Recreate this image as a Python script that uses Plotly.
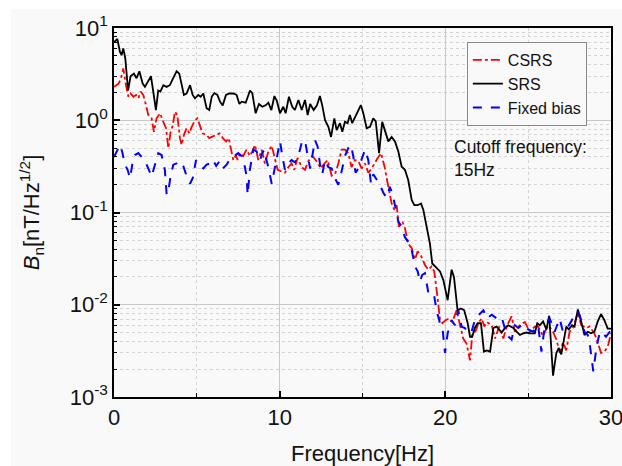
import plotly.graph_objects as go

# ---------------- data ----------------
freq_srs = [0.0, 0.2, 0.36, 0.46, 0.56, 0.68, 0.85, 1.0, 1.2, 1.36, 1.53, 1.73, 1.87, 2.07, 2.23, 2.37, 2.53, 2.67, 2.8, 2.98,
            3.17, 3.37, 3.58, 3.78, 3.94, 4.08, 4.22, 4.38, 4.59, 4.75, 4.89, 5.09, 5.23, 5.39, 5.59, 5.75, 5.9, 6.06, 6.24, 6.4,
            6.56, 6.76, 6.96, 7.2, 7.4, 7.57, 7.7, 7.95, 8.21, 8.35, 8.55, 8.75, 8.95, 9.15, 9.32, 9.5, 9.68, 9.83, 10.02, 10.22,
            10.36, 10.56, 10.76, 10.92, 11.13, 11.33, 11.53, 11.69, 11.84, 12.05, 12.25, 12.43, 12.57, 12.74, 12.94, 13.1, 13.3, 13.44, 13.64, 13.78,
            13.94, 14.1, 14.24, 14.38, 14.58, 14.75, 14.9, 15.05, 15.25, 15.45, 15.65, 15.8, 16.0, 16.19, 16.4, 16.56, 16.76, 16.96, 17.16, 17.36,
            17.56, 17.76, 17.97, 18.13, 18.33, 18.53, 18.67, 18.88, 19.07, 19.21, 19.41, 19.68, 19.88, 20.14, 20.38, 20.52, 20.74, 20.94, 21.14, 21.35,
            21.49, 21.62, 21.78, 21.95, 22.15, 22.33, 22.5, 22.7, 22.9, 23.1, 23.4, 23.6, 23.8, 24.1, 24.3, 24.5, 24.7, 24.9, 25.1, 25.4,
            25.55, 25.7, 25.9, 26.1, 26.27, 26.4, 26.5, 26.7, 26.85, 27.0, 27.15, 27.3, 27.45, 27.65, 27.8, 28.0, 28.2, 28.4, 28.6, 28.8,
            29.0, 29.2, 29.4, 29.6, 29.8, 30.0]
bn_srs = [7.0, 7.6, 5.5, 5.1, 6.0, 4.7, 2.1, 3.0, 3.2, 2.85, 3.4, 2.5, 2.3, 2.7, 3.0, 2.05, 1.29, 2.1, 2.05, 2.4,
          2.3, 2.4, 2.85, 3.4, 3.2, 2.5, 1.88, 1.95, 2.4, 1.88, 1.73, 1.88, 1.8, 1.95, 1.35, 1.29, 1.8, 1.97, 1.88, 1.59,
          1.45, 1.88, 1.95, 1.95, 1.88, 1.5, 1.59, 1.55, 2.1, 1.96, 1.19, 1.5, 1.4, 1.45, 1.55, 1.29, 1.83, 1.62, 1.19, 1.4,
          1.19, 1.8, 1.4, 1.29, 1.66, 1.29, 1.66, 1.14, 1.5, 1.29, 1.45, 1.83, 1.45, 1.0, 0.85, 0.66, 1.05, 0.78, 0.93, 0.75,
          0.96, 0.93, 1.14, 0.93, 1.1, 1.24, 1.46, 1.19, 0.82, 0.85, 1.05, 0.97, 0.44, 0.96, 0.72, 0.59, 0.66, 0.59, 0.46, 0.315,
          0.29, 0.225, 0.137, 0.12, 0.12, 0.125, 0.107, 0.065, 0.046, 0.028, 0.026, 0.023, 0.0185, 0.0112, 0.024, 0.02, 0.0087, 0.0091, 0.0087, 0.0063,
          0.0045, 0.0045, 0.0056, 0.0063, 0.0063, 0.0031, 0.0032, 0.0031, 0.0056, 0.0058, 0.005, 0.0056, 0.006, 0.0056, 0.0051, 0.0047, 0.0049, 0.005, 0.0049, 0.0049,
          0.0063, 0.006, 0.0066, 0.0054, 0.0076, 0.0035, 0.0017, 0.003, 0.0034, 0.0029, 0.0042, 0.0058, 0.0054, 0.006, 0.0058, 0.0089, 0.0066, 0.0047, 0.0051, 0.0049,
          0.0051, 0.0066, 0.0079, 0.0068, 0.0055, 0.0055]

freq_csrs = [0.0, 0.28, 0.42, 0.56, 0.72, 0.87, 1.0, 1.17, 1.33, 1.47, 1.61, 1.77, 1.93, 2.07, 2.27, 2.41, 2.57, 2.78, 2.98, 3.14,
             3.28, 3.42, 3.54, 3.68, 3.82, 3.98, 4.08, 4.22, 4.38, 4.55, 4.69, 4.89, 5.03, 5.19, 5.35, 5.59, 5.75, 5.9, 6.17, 6.37,
             6.57, 6.77, 6.92, 7.04, 7.2, 7.36, 7.46, 7.6, 7.8, 8.0, 8.2, 8.35, 8.51, 8.71, 8.91, 9.11, 9.32, 9.52, 9.68, 9.88,
             10.08, 10.32, 10.52, 10.72, 10.88, 11.08, 11.33, 11.53, 11.73, 11.97, 12.23, 12.49, 12.7, 12.9, 13.14, 13.34, 13.54, 13.74, 13.94, 14.14,
             14.34, 14.54, 14.75, 14.95, 15.15, 15.35, 15.55, 15.71, 15.9, 16.12, 16.32, 16.56, 16.76, 16.92, 17.06, 17.2, 17.4, 17.56, 17.76, 17.97,
             18.17, 18.33, 18.53, 18.77, 18.97, 19.17, 19.33, 19.53, 19.68, 19.82, 20.02, 20.22, 20.42, 20.68, 20.88, 21.08, 21.28, 21.49, 21.63, 21.83,
             22.03, 22.2, 22.35, 22.5, 22.8, 23.0, 23.25, 23.5, 23.7, 24.0, 24.2, 24.5, 24.8, 25.1, 25.4, 25.6, 25.9, 26.2, 26.5, 26.7,
             26.92, 27.1, 27.3, 27.5, 27.7, 28.0, 28.2, 28.5, 28.7, 29.0, 29.2, 29.4, 29.6, 29.8, 30.0]
bn_csrs = [2.3, 2.5, 2.85, 3.65, 2.4, 1.8, 1.95, 1.8, 1.88, 1.73, 2.05, 1.88, 1.46, 1.14, 1.05, 0.75, 1.05, 1.19, 0.96, 0.82,
           0.5, 0.75, 0.87, 1.24, 1.14, 0.64, 0.54, 0.69, 0.82, 0.72, 0.85, 1.0, 1.05, 0.87, 0.72, 0.69, 0.64, 0.66, 0.7, 0.72,
           0.64, 0.59, 0.64, 0.5, 0.37, 0.42, 0.37, 0.44, 0.41, 0.48, 0.41, 0.46, 0.54, 0.37, 0.48, 0.34, 0.46, 0.53, 0.41, 0.29,
           0.28, 0.27, 0.31, 0.34, 0.29, 0.39, 0.31, 0.29, 0.36, 0.41, 0.36, 0.3, 0.34, 0.37, 0.25, 0.26, 0.34, 0.48, 0.48, 0.44,
           0.31, 0.37, 0.36, 0.3, 0.34, 0.27, 0.3, 0.34, 0.385, 0.44, 0.32, 0.19, 0.125, 0.107, 0.12, 0.07, 0.08, 0.068, 0.046, 0.041,
           0.031, 0.038, 0.034, 0.027, 0.024, 0.026, 0.023, 0.012, 0.0068, 0.0063, 0.0068, 0.0071, 0.0065, 0.0087, 0.0063, 0.0043, 0.0038, 0.0025, 0.0048, 0.0052,
           0.0065, 0.0071, 0.0058, 0.0065, 0.006, 0.0043, 0.0058, 0.0043, 0.0058, 0.0075, 0.0051, 0.006, 0.0065, 0.0051, 0.0058, 0.0058, 0.0046, 0.006, 0.0051, 0.0042,
           0.003, 0.0039, 0.0032, 0.0051, 0.0056, 0.0082, 0.006, 0.0056, 0.0058, 0.0049, 0.0039, 0.003, 0.0031, 0.0035, 0.0049]

freq_fixed = [0.0, 0.2, 0.36, 0.5, 0.66, 0.82, 0.97, 1.1, 1.27, 1.47, 1.67, 1.87, 2.07, 2.27, 2.47, 2.67, 2.87, 3.07, 3.18, 3.28,
              3.42, 3.58, 3.78, 3.98, 4.18, 4.38, 4.59, 4.75, 4.95, 5.15, 5.39, 5.59, 5.79, 5.96, 6.17, 6.37, 6.57, 6.8, 7.0, 7.2,
              7.36, 7.5, 7.7, 7.87, 8.0, 8.07, 8.2, 8.41, 8.61, 8.81, 8.95, 9.07, 9.2, 9.32, 9.52, 9.68, 9.83, 10.02, 10.16, 10.32,
              10.52, 10.72, 10.92, 11.13, 11.33, 11.53, 11.69, 11.84, 11.97, 12.13, 12.29, 12.43, 12.57, 12.74, 12.94, 13.14, 13.34, 13.54, 13.7, 13.94,
              14.14, 14.3, 14.44, 14.58, 14.75, 14.95, 15.15, 15.35, 15.51, 15.65, 15.85, 16.05, 16.25, 16.45, 16.65, 16.8, 16.96, 17.16, 17.36, 17.56,
              17.76, 17.97, 18.17, 18.33, 18.47, 18.6, 18.77, 18.97, 19.13, 19.33, 19.47, 19.68, 19.82, 19.98, 20.14, 20.38, 20.58, 20.78, 20.98, 21.18,
              21.39, 21.58, 21.78, 22.03, 22.3, 22.5, 22.8, 23.1, 23.4, 23.7, 24.0, 24.2, 24.4, 24.7, 25.0, 25.3, 25.6, 25.8, 26.0, 26.3,
              26.6, 26.9, 27.1, 27.3, 27.6, 27.9, 28.1, 28.4, 28.6, 28.74, 28.93, 29.13, 29.33, 29.5, 29.7, 30.0]
bn_fixed = [0.4, 0.48, 0.54, 0.45, 0.33, 0.29, 0.235, 0.33, 0.42, 0.44, 0.4, 0.36, 0.3, 0.245, 0.33, 0.44, 0.42, 0.29, 0.155, 0.17,
            0.25, 0.33, 0.34, 0.36, 0.32, 0.25, 0.205, 0.235, 0.37, 0.32, 0.3, 0.33, 0.34, 0.375, 0.32, 0.36, 0.3, 0.33, 0.38, 0.4,
            0.42, 0.44, 0.41, 0.33, 0.25, 0.155, 0.29, 0.48, 0.46, 0.37, 0.44, 0.48, 0.37, 0.31, 0.205, 0.29, 0.37, 0.59, 0.41, 0.29,
            0.34, 0.37, 0.35, 0.41, 0.57, 0.61, 0.41, 0.3, 0.41, 0.61, 0.52, 0.34, 0.26, 0.37, 0.31, 0.3, 0.235, 0.2, 0.26, 0.41,
            0.5, 0.54, 0.41, 0.27, 0.3, 0.385, 0.48, 0.37, 0.205, 0.26, 0.225, 0.2, 0.165, 0.145, 0.19, 0.16, 0.12, 0.08, 0.07, 0.054,
            0.048, 0.039, 0.026, 0.023, 0.0177, 0.021, 0.022, 0.0136, 0.014, 0.0124, 0.0087, 0.0063, 0.0058, 0.003, 0.0049, 0.0068, 0.006, 0.0087, 0.0058, 0.0056,
            0.0049, 0.0051, 0.0068, 0.0078, 0.0087, 0.0071, 0.0078, 0.0071, 0.0074, 0.0047, 0.0042, 0.006, 0.0056, 0.0062, 0.0054, 0.0051, 0.006, 0.0031, 0.0058, 0.0071,
            0.0051, 0.0071, 0.0051, 0.0054, 0.0066, 0.0084, 0.0078, 0.0051, 0.0047, 0.0035, 0.0019, 0.0035, 0.0051, 0.0049, 0.0045, 0.0053]

x_ticks = [0, 10, 20, 30]
x_minor = [5, 15, 25]
y_ticks = [1e-3, 1e-2, 1e-1, 1e0, 1e1]
y_ticktext = ["10<sup>-3</sup>", "10<sup>-2</sup>", "10<sup>-1</sup>", "10<sup>0</sup>", "10<sup>1</sup>"]
y_minor = [m * 10.0 ** e for e in range(-3, 1) for m in range(2, 10)]

# ---------------- figure ----------------
FONT = "Liberation Sans, Arial, sans-serif"
BG = "#f9f9f9"
TXT = "#111111"

fig = go.Figure()
fig.add_trace(go.Scatter(x=freq_csrs, y=bn_csrs, mode="lines", name="CSRS",
                         line=dict(color="#ff0000", width=1.8, dash="dashdot")))
fig.add_trace(go.Scatter(x=freq_srs, y=bn_srs, mode="lines", name="SRS",
                         line=dict(color="#000000", width=1.8)))
fig.add_trace(go.Scatter(x=freq_fixed, y=bn_fixed, mode="lines", name="Fixed bias",
                         line=dict(color="#0000ff", width=2, dash="dash")))

fig.update_layout(
    width=622, height=466,
    margin=dict(l=114, r=11, t=28, b=69, autoexpand=False),
    paper_bgcolor="white",
    plot_bgcolor=BG,
    font=dict(family=FONT, color=TXT),
    showlegend=True,
    legend=dict(x=0.71, y=0.962, xanchor="left", yanchor="top",
                bgcolor=BG, bordercolor="#888888", borderwidth=1,
                font=dict(size=16, family=FONT, color=TXT),
                tracegroupgap=0, itemwidth=30),
    shapes=[dict(type="rect", xref="paper", yref="paper", layer="below",
                 x0=-0.207, x1=1.03, y0=-0.19, y1=1.052,
                 fillcolor=BG, line=dict(width=0))],
    annotations=[dict(text="Cutoff frequency:<br>15Hz", xref="paper", yref="paper",
                      x=0.68, y=0.71, xanchor="left", yanchor="top", align="left",
                      showarrow=False, font=dict(size=17.5, family=FONT, color=TXT))],
)

fig.update_xaxes(
    range=[0, 30], tickmode="array", tickvals=x_ticks, automargin=False,
    ticklabeloverflow="allow",
    ticks="inside", ticklen=6, tickwidth=1.5, tickcolor="black",
    showline=True, linecolor="black", linewidth=1.5, mirror=True,
    showgrid=True, gridcolor="#c8c8c8", gridwidth=1, zeroline=False,
    tickfont=dict(size=22, family=FONT, color=TXT),
    title=dict(text="Frequency[Hz]", font=dict(size=22, family=FONT, color=TXT), standoff=16),
    minor=dict(tickmode="array", tickvals=x_minor, ticks="inside", ticklen=4, tickwidth=1.2,
               tickcolor="black", showgrid=True, gridcolor="#d4d4d4", griddash="dot", gridwidth=1),
)

fig.update_yaxes(
    type="log", range=[-3, 1], tickmode="array", tickvals=y_ticks, ticktext=y_ticktext, automargin=False,
    ticklabeloverflow="allow",
    ticks="inside", ticklen=6, tickwidth=1.5, tickcolor="black",
    showline=True, linecolor="black", linewidth=1.5, mirror=True,
    showgrid=True, gridcolor="#c8c8c8", gridwidth=1, zeroline=False,
    tickfont=dict(size=22, family=FONT, color=TXT),
    title=dict(text="<i>B</i><sub>n</sub>[nT/Hz<sup>1/2</sup>]",
               font=dict(size=22, family=FONT, color=TXT), standoff=24),
    minor=dict(tickmode="array", tickvals=y_minor, ticks="inside", ticklen=3, tickwidth=1.2,
               tickcolor="black", showgrid=True, gridcolor="#d4d4d4", griddash="dot", gridwidth=1),
)

fig.write_html("out.html")
